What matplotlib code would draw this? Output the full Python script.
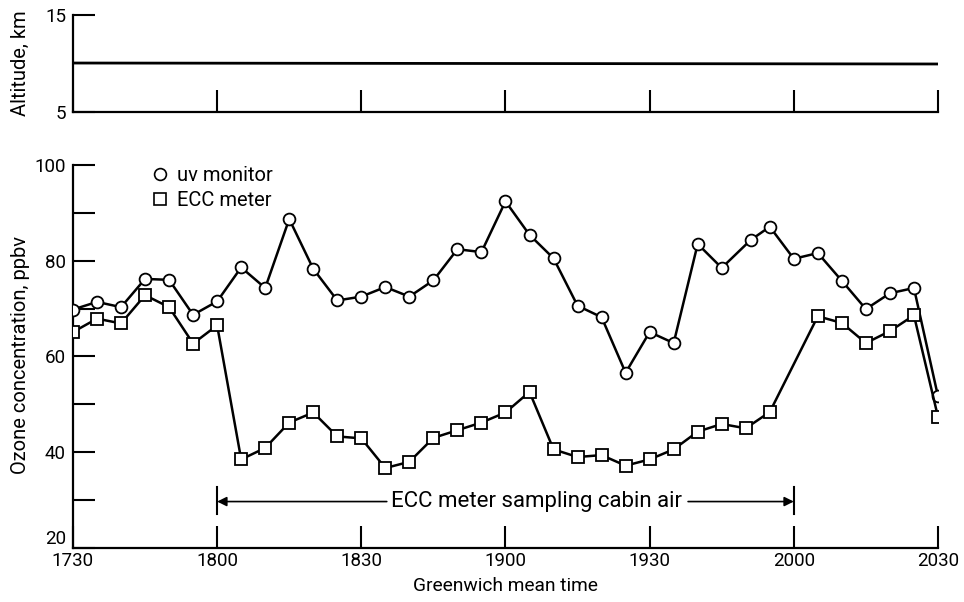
import matplotlib
matplotlib.use("Agg")
import matplotlib.pyplot as plt
from matplotlib import font_manager
from matplotlib.lines import Line2D

names = {f.name for f in font_manager.fontManager.ttflist}
if 'Liberation Sans Narrow' in names:
    FAM = ['Liberation Sans Narrow', 'DejaVu Sans']
    S = 1.1
else:
    FAM = ['Roboto', 'DejaVu Sans']
    S = 1.0
plt.rcParams['font.family'] = FAM
FS_TICK = 13.5 * S
FS_LAB = 14.5 * S
FS_ANN = 16.0 * S
FS_LEG = 14.5 * S

# ---- data (minutes after 1730 GMT) ----
uv_time = [0, 5, 10, 15, 20, 25, 30, 35, 40, 45, 50, 55, 60, 65, 70, 75, 80, 85,
           90, 95, 100, 105, 110, 115, 120, 125, 130, 135, 141, 145, 150, 155, 160,
           165, 170, 175, 180]
uv_ozone = [69.8, 71.4, 70.3, 76.2, 76.0, 68.7, 71.5, 78.6, 74.3, 88.7, 78.3, 71.7,
            72.5, 74.5, 72.5, 75.9, 82.4, 81.8, 92.4, 85.4, 80.5, 70.6, 68.2, 56.6,
            65.1, 62.8, 83.5, 78.5, 84.3, 87.1, 80.4, 81.6, 75.8, 69.9, 73.2, 74.3, 51.7]

ecc_time = [0, 5, 10, 15, 20, 25, 30, 35, 40, 45, 50, 55, 60, 65, 70, 75, 80, 85,
            90, 95, 100, 105, 110, 115, 120, 125, 130, 135, 140, 145, 155, 160,
            165, 170, 175, 180]
ecc_ozone = [65.1, 67.9, 66.9, 72.8, 70.3, 62.7, 66.5, 38.5, 40.9, 46.2, 48.3, 43.3,
             42.9, 36.7, 38.0, 43.0, 44.6, 46.2, 48.3, 52.6, 40.6, 39.0, 39.4, 37.2,
             38.5, 40.6, 44.3, 45.9, 45.0, 48.4, 68.4, 67.0, 62.8, 65.3, 68.6, 47.4]

alt_time = [0, 180]
altitude = [10.05, 9.95]

tick_pos = [0, 30, 60, 90, 120, 150, 180]
tick_labels = ['1730', '1800', '1830', '1900', '1930', '2000', '2030']
cabin_start, cabin_end = 30, 150

fig = plt.figure(figsize=(9.64, 6.02), dpi=100)

# ---- altitude panel ----
ax1 = fig.add_axes([0.0757, 0.814, 0.8973, 0.161])
ax1.plot(alt_time, altitude, color='black', lw=2.0)
ax1.set_xlim(0, 180)
ax1.set_ylim(5, 15)
ax1.set_yticks([5, 15])
ax1.set_yticklabels(['5', '15'])
ax1.set_xticks(tick_pos)
ax1.set_xticklabels([])
for s in ['top', 'right']:
    ax1.spines[s].set_visible(False)
for s in ['left', 'bottom']:
    ax1.spines[s].set_linewidth(1.6)
ax1.tick_params(axis='x', direction='in', length=16, width=1.5)
ax1.tick_params(axis='y', direction='in', length=16, width=1.5, labelsize=FS_TICK, pad=5)
ax1.set_ylabel('Altitude, km', fontsize=FS_LAB, va='center')
ax1.yaxis.set_label_coords(-0.061, 0.505)

# ---- ozone panel ----
ax = fig.add_axes([0.0757, 0.0897, 0.8973, 0.6363])
ax.plot(uv_time, uv_ozone, color='black', lw=1.8, marker='o', ms=8.5,
        mfc='white', mec='black', mew=1.3, zorder=3)
ax.plot(ecc_time, ecc_ozone, color='black', lw=1.8, marker='s', ms=8,
        mfc='white', mec='black', mew=1.3, zorder=3)
ax.set_xlim(0, 180)
ax.set_ylim(20, 100)
ax.set_xticks(tick_pos)
ax.set_xticklabels(tick_labels)
ax.set_yticks([20, 40, 60, 80, 100])
ax.set_yticks([30, 50, 70, 90], minor=True)
for s in ['top', 'right']:
    ax.spines[s].set_visible(False)
for s in ['left', 'bottom']:
    ax.spines[s].set_linewidth(1.6)
ax.tick_params(axis='x', direction='in', length=16, width=1.5, labelsize=FS_TICK, pad=3)
ax.tick_params(axis='y', which='both', direction='in', length=16, width=1.5,
               labelsize=FS_TICK, pad=5)
ax.get_yticklabels()[0].set_va('bottom')
ax.set_ylabel('Ozone concentration, ppbv', fontsize=FS_LAB, va='center')
ax.yaxis.set_label_coords(-0.061, 0.504)
ax.set_xlabel('Greenwich mean time', fontsize=FS_LAB * 0.95, labelpad=5)

# annotation: cabin-air sampling period
ya = 29.7
ax.text(96.5, ya, 'ECC meter sampling cabin air', ha='center', va='center',
        fontsize=FS_ANN)
ax.annotate('', xy=(cabin_start, ya), xytext=(65.3, ya),
            arrowprops=dict(arrowstyle='-|>', color='black', lw=1.2,
                            mutation_scale=14, shrinkA=0, shrinkB=0))
ax.annotate('', xy=(cabin_end, ya), xytext=(128.0, ya),
            arrowprops=dict(arrowstyle='-|>', color='black', lw=1.2,
                            mutation_scale=14, shrinkA=0, shrinkB=0))
ax.plot([cabin_start, cabin_start], [27.1, 32.7], color='black', lw=1.5)
ax.plot([cabin_end, cabin_end], [27.1, 32.7], color='black', lw=1.5)

handles = [Line2D([], [], ls='none', marker='o', ms=8.5, mfc='white', mec='black', mew=1.2),
           Line2D([], [], ls='none', marker='s', ms=8, mfc='white', mec='black', mew=1.2)]
ax.legend(handles, ['uv monitor', 'ECC meter'], loc='upper left',
          bbox_to_anchor=(0.075, 1.035), frameon=False, fontsize=FS_LEG,
          handlelength=0.8, handletextpad=0.45, labelspacing=0.3, borderpad=0.2)

fig.savefig('out.png', dpi=100)
